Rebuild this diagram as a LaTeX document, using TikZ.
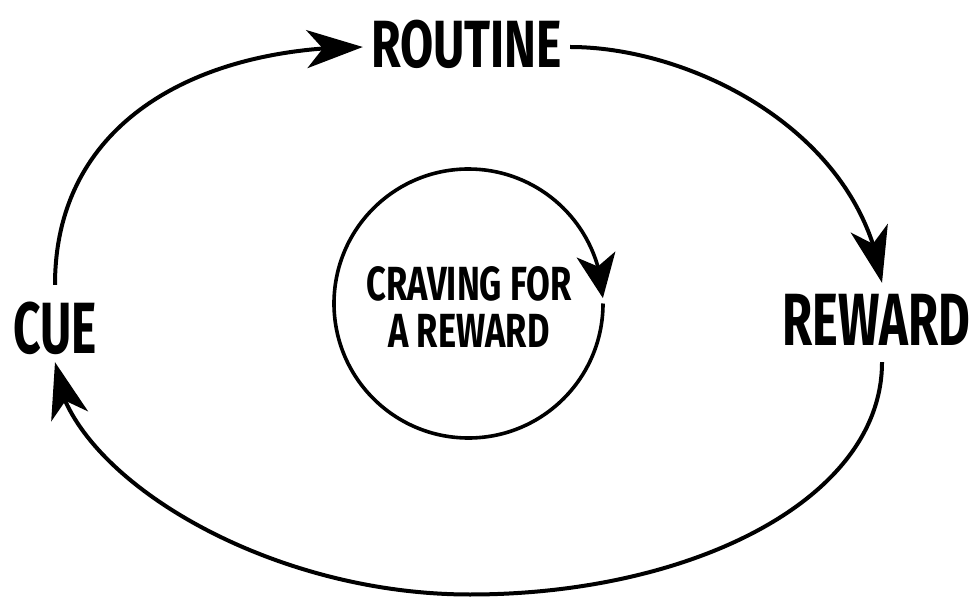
\documentclass[tikz,border=0pt]{standalone}
\usepackage{fontspec}
\usetikzlibrary{arrows.meta,bending}
\newfontfamily\bebas{Fira Sans}[FakeStretch=0.72]
\newfontfamily\bebasn{Fira Sans}[FakeStretch=0.66]
\tikzset{
  lbl/.style={inner sep=0pt, text depth=0pt, font={\bebas\bfseries\fontsize{#1pt}{#1pt}\selectfont}},
  lbln/.style={inner sep=0pt, text depth=0pt, font={\bebasn\bfseries\fontsize{#1pt}{#1pt}\selectfont}},
  loopline/.style={line width=4pt, -{Stealth[length=56pt,width=38pt,inset=16pt]}},
  ringline/.style={line width=3.6pt, -{Stealth[length=44pt,width=39pt,inset=12pt]}},
}
\begin{document}
\begin{tikzpicture}[x=1pt,y=1pt]
\useasboundingbox (0,0) rectangle (976,597);
\node[lbl=66.8, text height=46pt, minimum width=193pt] (routine) at (466.5,552.5) {ROUTINE};
\node[lbln=72.6, text height=50pt, minimum width=82pt] (cue) at (55,268) {CUE};
\node[lbln=74, text height=51pt, minimum width=187pt] (reward) at (876.5,276.5) {REWARD};
\node[inner sep=0pt, align=center, font={\bebas\bfseries\fontsize{47.9pt}{47pt}\selectfont}] (craving) at (469,290.5) {CRAVING FOR\\A REWARD};
\coordinate (cc) at (468.5,293.5);
\draw[ringline] ([shift={(0:134.5)}]cc) arc[start angle=0, end angle=-357.7, radius=134.5];
\draw[loopline] ([yshift=19pt]cue.north) .. controls (55,477) and (200,550) .. ([shift={(-7pt,-2.5pt)}]routine.west);
\draw[loopline] ([shift={(7pt,-2.5pt)}]routine.east) .. controls (690,550) and (860,467) .. ([shift={(5.5pt,12pt)}]reward.north);
\coordinate (bot) at (470,2.5);
\draw[loopline] ([shift={(5.5pt,-16pt)}]reward.south) .. controls (882,97) and (690,2.5) .. (bot) .. controls (260,2.5) and (62,127) .. ([yshift=-8pt]cue.south);
\end{tikzpicture}
\end{document}
